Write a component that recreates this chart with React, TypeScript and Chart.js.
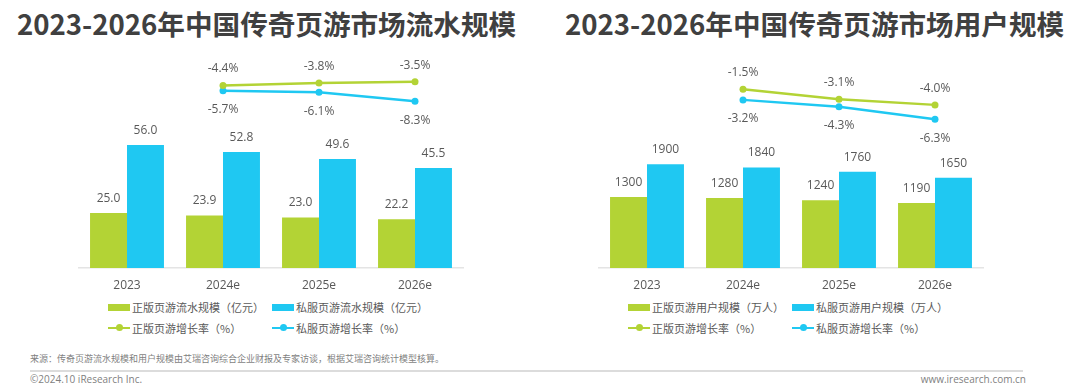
import React, { useEffect, useRef } from "react";
import { Chart, registerables } from "chart.js";

Chart.register(...registerables);

// ---------- data ----------
const categories = ["2023", "2024e", "2025e", "2026e"];

const revenueOfficial = [25.0, 23.9, 23.0, 22.2];
const revenuePrivate = [56.0, 52.8, 49.6, 45.5];
const revenueGrowthOfficial = [null, -4.4, -3.8, -3.5];
const revenueGrowthPrivate = [null, -5.7, -6.1, -8.3];

const usersOfficial = [1300, 1280, 1240, 1190];
const usersPrivate = [1900, 1840, 1760, 1650];
const usersGrowthOfficial = [null, -1.5, -3.1, -4.0];
const usersGrowthPrivate = [null, -3.2, -4.3, -6.3];

const revenueTitle = "2023-2026年中国传奇页游市场流水规模";
const usersTitle = "2023-2026年中国传奇页游市场用户规模";
const revenueSeriesNames = ["正版页游流水规模（亿元）", "私服页游流水规模（亿元）", "正版页游增长率（%）", "私服页游增长率（%）"];
const usersSeriesNames = ["正版页游用户规模（万人）", "私服页游用户规模（万人）", "正版页游增长率（%）", "私服页游增长率（%）"];

const sourceText = "来源：传奇页游流水规模和用户规模由艾瑞咨询综合企业财报及专家访谈，根据艾瑞咨询统计模型核算。";
const copyrightText = "©2024.10 iResearch Inc.";
const siteText = "www.iresearch.com.cn";

// ---------- styles ----------
const GREEN = "#b3d335";
const BLUE = "#1fc8f2";
const LABEL = "#595959";
const FONT = "'Open Sans', 'Noto Sans CJK SC', sans-serif";
const CJK = "'Noto Sans CJK SC', sans-serif";

Chart.defaults.font.family = FONT;

const valueLabels = {
  id: "valueLabels",
  afterDatasetsDraw(chart: any) {
    const ctx = chart.ctx;
    ctx.save();
    ctx.fillStyle = LABEL;
    ctx.textAlign = "center";
    ctx.textBaseline = "middle";
    chart.data.datasets.forEach((ds: any, i: number) => {
      const meta = chart.getDatasetMeta(i);
      ctx.font = `${ds.labelSize}px ${FONT}`;
      meta.data.forEach((el: any, j: number) => {
        const v = ds.data[j];
        if (v === null || v === undefined) return;
        ctx.fillText(v.toFixed(ds.labelDecimals) + ds.labelSuffix, el.x, el.y + ds.labelOffset);
      });
    });
    ctx.restore();
  },
};

type Cfg = {
  barA: number[];
  barB: number[];
  lineA: (number | null)[];
  lineB: (number | null)[];
  names: string[];
  yMax: number;
  y2Min: number;
  y2Max: number;
  decimals: number;
};

function buildConfig(c: Cfg): any {
  return {
    type: "bar",
    data: {
      labels: categories,
      datasets: [
        {
          type: "line", label: c.names[2], data: c.lineA, yAxisID: "y2",
          borderColor: GREEN, backgroundColor: GREEN, borderWidth: 2.5,
          pointRadius: 3.5, pointBackgroundColor: GREEN, pointBorderWidth: 0,
          order: 1, labelOffset: -16.5, labelDecimals: 1, labelSuffix: "%", labelSize: 12,
        },
        {
          type: "line", label: c.names[3], data: c.lineB, yAxisID: "y2",
          borderColor: BLUE, backgroundColor: BLUE, borderWidth: 2.5,
          pointRadius: 3.5, pointBackgroundColor: BLUE, pointBorderWidth: 0,
          order: 1, labelOffset: 19, labelDecimals: 1, labelSuffix: "%", labelSize: 12,
        },
        {
          type: "bar", label: c.names[0], data: c.barA, yAxisID: "y",
          backgroundColor: GREEN, borderWidth: 0, order: 2,
          categoryPercentage: 0.77, barPercentage: 1,
          labelOffset: -14.5, labelDecimals: c.decimals, labelSuffix: "", labelSize: 12,
        },
        {
          type: "bar", label: c.names[1], data: c.barB, yAxisID: "y",
          backgroundColor: BLUE, borderWidth: 0, order: 2,
          categoryPercentage: 0.77, barPercentage: 1,
          labelOffset: -14.5, labelDecimals: c.decimals, labelSuffix: "", labelSize: 12,
        },
      ],
    },
    options: {
      responsive: false,
      animation: false,
      layout: { padding: { left: 20, right: 20, top: 28, bottom: 0 } },
      plugins: { legend: { display: false }, tooltip: { enabled: false } },
      scales: {
        x: {
          grid: { display: false, drawTicks: false },
          border: { display: true, color: "#e4e4e4", width: 1.5 },
          ticks: { color: LABEL, font: { size: 12, family: FONT }, padding: 10 },
          afterFit: (scale: any) => { scale.height = 30; },
        },
        y: { display: false, min: 0, max: c.yMax },
        y2: { display: false, min: c.y2Min, max: c.y2Max },
      },
    },
    plugins: [valueLabels],
  };
}

function ChartCanvas({ cfg, left }: { cfg: Cfg; left: number }) {
  const ref = useRef<HTMLCanvasElement>(null);
  useEffect(() => {
    if (!ref.current) return;
    const chart = new Chart(ref.current, buildConfig(cfg));
    return () => chart.destroy();
  }, []);
  return (
    <canvas ref={ref} width={424} height={258}
      style={{ position: "absolute", left, top: 40, width: 424, height: 258 }} />
  );
}

function Legend({ x, names }: { x: number; names: string[] }) {
  const text: React.CSSProperties = { fontSize: 11, color: LABEL, fontFamily: CJK, whiteSpace: "nowrap", marginLeft: 2 };
  const box = (color: string) => <span style={{ display: "inline-block", width: 22, height: 7, background: color }} />;
  const line = (color: string) => (
    <span style={{ position: "relative", display: "inline-block", width: 22, height: 7 }}>
      <span style={{ position: "absolute", left: 0, top: 2.5, width: 22, height: 2, background: color }} />
      <span style={{ position: "absolute", left: 8, top: 0, width: 7, height: 7, borderRadius: "50%", background: color }} />
    </span>
  );
  const item = (left: number, cy: number, icon: React.ReactNode, label: string) => (
    <div style={{ position: "absolute", left, top: cy - 8, height: 16, display: "flex", alignItems: "center" }}>
      {icon}
      <span style={text}>{label}</span>
    </div>
  );
  return (
    <>
      {item(x, 307, box(GREEN), names[0])}
      {item(x + 164, 307, box(BLUE), names[1])}
      {item(x, 327.5, line(GREEN), names[2])}
      {item(x + 164, 327.5, line(BLUE), names[3])}
    </>
  );
}

export default function App() {
  const revenueCfg: Cfg = {
    barA: revenueOfficial, barB: revenuePrivate,
    lineA: revenueGrowthOfficial, lineB: revenueGrowthPrivate,
    names: revenueSeriesNames, yMax: 91, y2Min: -49.5, y2Max: -0.1, decimals: 1,
  };
  const usersCfg: Cfg = {
    barA: usersOfficial, barB: usersPrivate,
    lineA: usersGrowthOfficial, lineB: usersGrowthPrivate,
    names: usersSeriesNames, yMax: 3660, y2Min: -30.1, y2Max: 1.9, decimals: 0,
  };
  const titleStyle: React.CSSProperties = {
    position: "absolute", top: 6, height: 34, lineHeight: "34px", transform: "translateX(-50%)",
    fontFamily: CJK, fontWeight: 700, fontSize: 27.6, color: "#404040", whiteSpace: "nowrap",
  };
  return (
    <div style={{ position: "absolute", left: 0, top: 0, width: 1080, height: 390, background: "#fff", overflow: "hidden", fontFamily: FONT }}>
      <div style={{ ...titleStyle, left: 266.5 }}>{revenueTitle}</div>
      <div style={{ ...titleStyle, left: 814.5 }}>{usersTitle}</div>
      <ChartCanvas cfg={revenueCfg} left={59} />
      <ChartCanvas cfg={usersCfg} left={579} />
      <Legend x={108} names={revenueSeriesNames} />
      <Legend x={628} names={usersSeriesNames} />
      <div style={{ position: "absolute", left: 30, top: 352, lineHeight: "14px", fontSize: 9, color: "#7f7f7f", fontFamily: CJK, whiteSpace: "nowrap" }}>{sourceText}</div>
      <div style={{ position: "absolute", left: 30, top: 370, width: 993, height: 2, background: "#dcdcdc" }} />
      <div style={{ position: "absolute", left: 30, top: 372, lineHeight: "14px", fontSize: 10, color: "#7f7f7f", fontFamily: FONT, whiteSpace: "nowrap" }}>{copyrightText}</div>
      <div style={{ position: "absolute", right: 1080 - 1026, top: 372, lineHeight: "14px", fontSize: 10, color: "#7f7f7f", fontFamily: FONT, whiteSpace: "nowrap" }}>{siteText}</div>
    </div>
  );
}
